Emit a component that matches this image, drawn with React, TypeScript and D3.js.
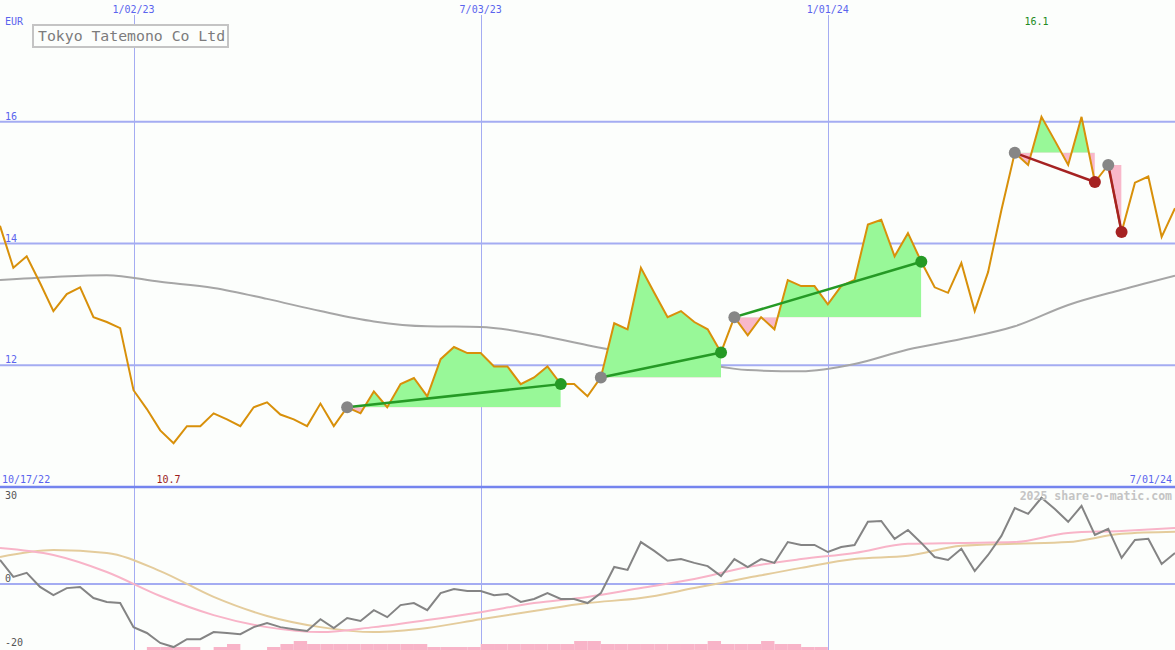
import React from 'react';
import * as d3 from 'd3';

const W = 1175;
const H = 650;
const START = Date.UTC(2022, 9, 24);
const END = Date.UTC(2024, 6, 1);
const DAY = 86400000;

const prices = [
  14.29, 13.6, 13.79, 13.35, 12.89, 13.17, 13.28, 12.79, 12.71, 12.61,
  11.59, 11.28, 10.93, 10.72, 11.0, 11.0, 11.21, 11.11, 11.0, 11.31,
  11.39, 11.19, 11.11, 11.0, 11.37, 11.0, 11.31, 11.21, 11.57, 11.31,
  11.69, 11.79, 11.49, 12.1, 12.3, 12.2, 12.2, 11.98, 11.98, 11.69,
  11.8, 11.98, 11.69, 11.69, 11.49, 11.8, 12.69, 12.59, 13.6, 13.19,
  12.79, 12.89, 12.71, 12.59, 12.21, 12.79, 12.49, 12.79, 12.59, 13.4,
  13.3, 13.3, 13.0, 13.3, 13.4, 14.31, 14.39, 13.79, 14.17, 13.7,
  13.28, 13.19, 13.68, 12.89, 13.53, 14.55, 15.49, 15.29, 16.08, 15.69,
  15.29, 16.08, 15.01, 15.29, 14.19, 15.0, 15.1, 14.11, 14.58,
];

const smoothWeeks = [0, 4, 8, 12, 16, 20, 24, 28, 32, 36, 40, 44, 48, 52, 56, 60, 64, 68, 72, 76, 80, 84, 88];
const maPrices = [
  13.4, 13.45, 13.48, 13.37, 13.27, 13.09, 12.89, 12.72, 12.64, 12.63, 12.51, 12.33,
  12.17, 12.05, 11.92, 11.9, 12.02, 12.26, 12.43, 12.64, 12.99, 13.24, 13.47,
];

const oscValues = [
  8.2, 2.4, 3.8, -1.0, -3.8, -1.4, -1.0, -4.8, -6.1, -6.5,
  -14.7, -16.7, -20.1, -21.5, -18.8, -18.8, -16.4, -16.7, -17.1, -14.7,
  -13.3, -14.7, -15.4, -16.0, -12.0, -15.0, -11.6, -12.6, -8.9, -11.3,
  -7.2, -6.5, -8.9, -3.1, -1.7, -2.4, -2.4, -3.8, -3.4, -6.1,
  -5.1, -3.1, -5.1, -5.1, -6.5, -3.1, 5.8, 4.8, 14.3, 11.3,
  7.9, 8.5, 7.2, 6.1, 2.7, 8.5, 5.8, 8.5, 7.2, 14.3,
  13.3, 13.3, 10.9, 12.6, 13.3, 21.2, 21.5, 15.4, 18.4, 14.0,
  9.2, 8.2, 12.0, 4.4, 9.9, 16.4, 25.9, 23.9, 29.4, 25.6,
  21.2, 26.6, 16.7, 18.8, 8.9, 15.0, 15.4, 6.8, 10.6,
];

const fastAvg = [
  12.3, 9.9, 4.1, -4.1, -10.6, -14.7, -16.4, -14.7, -12.3, -9.6, -6.5, -4.4,
  -1.4, 1.7, 5.8, 8.5, 10.6, 13.7, 14.0, 14.3, 17.4, 18.1, 19.1,
];
const slowAvg = [
  9.2, 11.6, 10.6, 4.4, -4.4, -10.9, -14.7, -16.4, -15.0, -12.0, -9.2, -6.5,
  -4.8, -1.4, 2.1, 5.5, 8.5, 9.6, 13.0, 13.7, 14.3, 17.1, 17.8,
];

const barStartWeek = 11;
const barLevels = [
  1, 1, 1, 1, 0, 1, 2, 0, 0, 1, 2, 3,
  2, 2, 2, 2, 2, 2, 2, 2, 2,
  1, 1, 1, 1,
  2, 2, 2, 2, 2, 2, 2,
  3, 3,
  2, 2, 2, 2, 2, 2, 2, 2,
  3, 2, 2, 2, 3, 2, 2, 1, 1,
];

const trendStarts = [26, 45, 55, 76, 83];
const trendEnds = [42, 54, 69, 82, 84];

const gridDates = ['2023-01-02', '2023-07-03', '2024-01-01'];
const gridLabels = ['1/02/23', '7/03/23', '1/01/24'];
const priceTicks = [12, 14, 16];
const oscTicks = [30, 0, -20];

const weekDate = (i: number) => new Date(START + i * 7 * DAY);

export default function App() {
  const x = d3.scaleUtc().domain([new Date(START), new Date(END)]).range([0, W]);
  const yP = d3.scaleLinear().domain([10, 18]).range([487, 0]);
  const yB = d3.scaleLinear().domain([0, 30]).range([584, 496]);
  const yBar = d3.scaleLinear().domain([0, 3]).range([650, 641]);
  const xi = (i: number) => x(weekDate(i));

  const priceLine = d3.line<number>().x((_, i) => xi(i)).y((d) => yP(d))(prices) || '';
  const maLine = d3
    .line<number>()
    .x((_, k) => xi(smoothWeeks[k]))
    .y((d) => yP(d))
    .curve(d3.curveMonotoneX)(maPrices) || '';
  const oscLine = d3.line<number>().x((_, i) => xi(i)).y((d) => yB(d))(oscValues) || '';
  const smooth = (arr: number[]) =>
    d3
      .line<number>()
      .x((_, k) => xi(smoothWeeks[k]))
      .y((d) => yB(d))
      .curve(d3.curveMonotoneX)(arr) || '';

  const maxI = d3.maxIndex(prices);
  const minI = d3.minIndex(prices);

  const blue = '#5a64ee';
  const grid = '#a4acf2';
  const mono = '"DejaVu Sans Mono", monospace';

  return (
    <svg
      width={W}
      height={H}
      style={{ position: 'absolute', left: 0, top: 0, display: 'block' }}
      fontFamily={mono}
    >
      <rect x={0} y={0} width={W} height={H} fill="#fcfefc" />
      <defs>
        {trendStarts.map((s, k) => {
          const e = trendEnds[k];
          const yb = yP(prices[s]);
          return (
            <React.Fragment key={k}>
              <clipPath id={`up${k}`}>
                <rect x={xi(s)} y={0} width={xi(e) - xi(s)} height={yb} />
              </clipPath>
              <clipPath id={`dn${k}`}>
                <rect x={xi(s)} y={yb} width={xi(e) - xi(s)} height={487 - yb} />
              </clipPath>
            </React.Fragment>
          );
        })}
      </defs>

      {/* horizontal grid */}
      {priceTicks.map((t) => (
        <line key={t} x1={0} x2={W} y1={yP(t)} y2={yP(t)} stroke={grid} strokeWidth={2} />
      ))}
      <line x1={0} x2={W} y1={yB(0)} y2={yB(0)} stroke={grid} strokeWidth={2} />
      {/* vertical grid */}
      {gridDates.map((d) => {
        const xv = Math.round(x(new Date(d + 'T00:00:00Z'))) + 0.5;
        return <line key={d} x1={xv} x2={xv} y1={15} y2={H} stroke={grid} strokeWidth={1} />;
      })}
      <line x1={0} x2={W} y1={487} y2={487} stroke="#7484ee" strokeWidth={2.5} />

      {/* moving average */}
      <path d={maLine} fill="none" stroke="#a6a6a6" strokeWidth={2} />

      {/* trend fills */}
      {trendStarts.map((s, k) => {
        const e = trendEnds[k];
        const idx = d3.range(s, e + 1);
        const yb = yP(prices[s]);
        const a =
          d3
            .area<number>()
            .x((i) => xi(i))
            .y0(yb)
            .y1((i) => yP(prices[i]))(idx) || '';
        return (
          <g key={k}>
            <path d={a} fill="#98f898" clipPath={`url(#up${k})`} />
            <path d={a} fill="#f8b8ca" clipPath={`url(#dn${k})`} />
          </g>
        );
      })}

      {/* price */}
      <path d={priceLine} fill="none" stroke="#d8900a" strokeWidth={2} strokeLinejoin="miter" />

      {/* trend lines and dots */}
      {trendStarts.map((s, k) => {
        const e = trendEnds[k];
        const up = prices[e] >= prices[s];
        const col = up ? '#259a25' : '#a52222';
        return (
          <g key={k}>
            <line
              x1={xi(s)}
              y1={yP(prices[s])}
              x2={xi(e)}
              y2={yP(prices[e])}
              stroke={col}
              strokeWidth={2.5}
            />
            <circle cx={xi(s)} cy={yP(prices[s])} r={6} fill="#868686" />
            <circle cx={xi(e)} cy={yP(prices[e])} r={6} fill={col} />
          </g>
        );
      })}

      {/* bottom panel */}
      {barLevels.map((lv, k) =>
        lv > 0 ? (
          <rect
            key={k}
            x={xi(barStartWeek + k)}
            y={yBar(lv)}
            width={xi(barStartWeek + k + 1) - xi(barStartWeek + k)}
            height={650 - yBar(lv)}
            fill="#f8b4c8"
          />
        ) : null
      )}
      <path d={smooth(slowAvg)} fill="none" stroke="#e4cc9c" strokeWidth={2} />
      <path d={smooth(fastAvg)} fill="none" stroke="#f8b4c8" strokeWidth={2} />
      <path d={oscLine} fill="none" stroke="#848484" strokeWidth={2} />

      {/* labels */}
      <g fontSize={10} fill={blue}>
        {gridDates.map((d, k) => (
          <text key={d} x={x(new Date(d + 'T00:00:00Z'))} y={13} textAnchor="middle">
            {gridLabels[k]}
          </text>
        ))}
        <text x={5} y={25}>EUR</text>
        {priceTicks.map((t) => (
          <text key={t} x={5} y={yP(t) - 2}>
            {t}
          </text>
        ))}
        <text x={2} y={483}>10/17/22</text>
        <text x={1172} y={483} textAnchor="end">7/01/24</text>
      </g>
      <g fontSize={10} fill="#555">
        {oscTicks.map((t) => (
          <text key={t} x={5} y={t === 0 ? yB(t) - 2 : yB(t) + 3}>
            {t}
          </text>
        ))}
      </g>
      <text x={xi(maxI) - 5} y={25} fontSize={10} fill="#228b22" textAnchor="middle">
        {prices[maxI].toFixed(1)}
      </text>
      <text x={xi(minI) - 5} y={483} fontSize={10} fill="#9b1c1c" textAnchor="middle">
        {prices[minI].toFixed(1)}
      </text>
      <text
        x={1172}
        y={500}
        fontSize={11.5}
        fontWeight="bold"
        fill="#c4c4c4"
        textAnchor="end"
      >
        2025 share-o-matic.com
      </text>

      {/* title box */}
      <rect x={33} y={25} width={195} height={22} fill="#fcfefc" stroke="#c4c4c4" strokeWidth={2} />
      <text x={38} y={41} fontSize={14.8} fill="#7c7c7c">
        Tokyo Tatemono Co Ltd
      </text>
    </svg>
  );
}
